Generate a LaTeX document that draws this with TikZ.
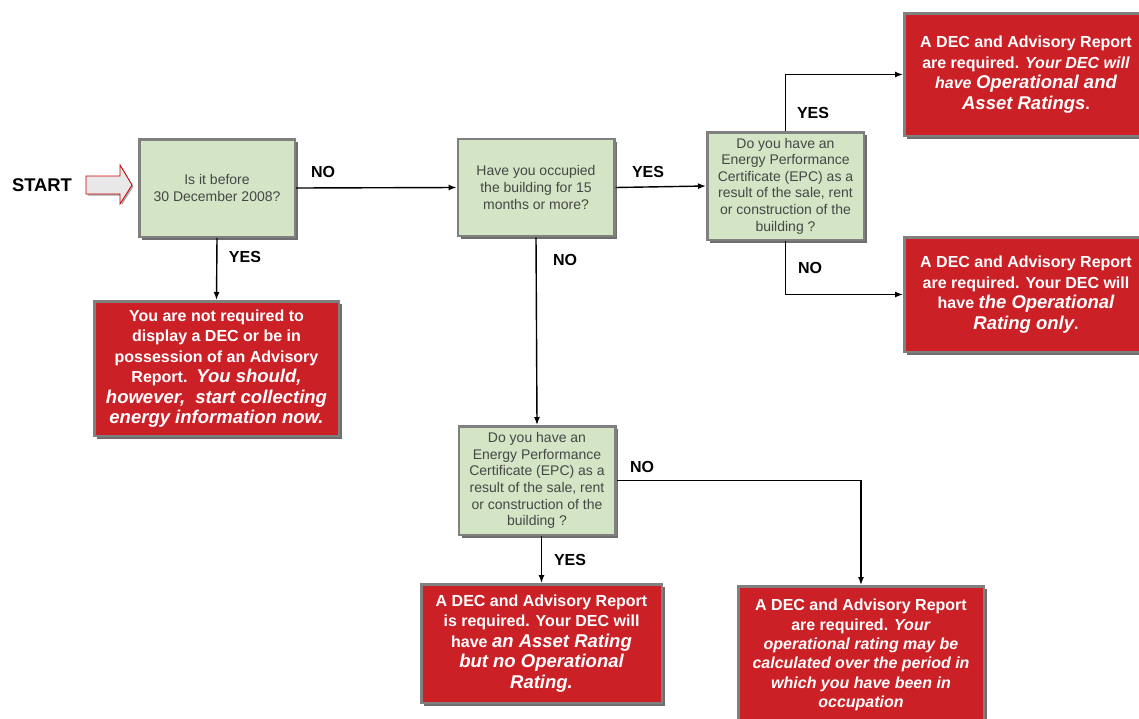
\documentclass[tikz,border=0pt]{standalone}
\usepackage{fontspec}
\setmainfont{Liberation Sans}
\usetikzlibrary{arrows.meta,shadows}
\definecolor{ared}{RGB}{204,32,39}
\definecolor{qgreen}{RGB}{211,229,197}
\definecolor{boxgray}{RGB}{128,128,128}
\definecolor{shadowgray}{RGB}{110,110,110}
\definecolor{qtext}{RGB}{70,70,70}
\definecolor{startfill}{RGB}{232,232,232}
\newcommand\bigit[1]{{\fontsize{18.5}{20.5}\selectfont\itshape #1}}
\begin{document}
\begin{tikzpicture}[x=1pt,y=-1pt,
  basebox/.style={rectangle, draw=boxgray, line width=2.5pt, align=center, inner sep=0pt,
    general shadow={fill=shadowgray, shadow xshift=3pt, shadow yshift=-3pt}},
  qbox/.style={basebox, fill=qgreen, text=qtext, font=\fontsize{14}{16.6}\selectfont},
  abox/.style={basebox, fill=ared, text=white, font=\bfseries\fontsize{16}{20.5}\selectfont},
  lab/.style={font=\bfseries\fontsize{16}{18}\selectfont, text=black, inner sep=0pt},
  conn/.style={line width=1.4pt, -{Latex[length=8pt,width=6pt]}}
]
\useasboundingbox (0,0) rectangle (1139,718);

% START
\node[lab, font=\bfseries\fontsize{18.4}{20}\selectfont] (start) at (42,185) {START};
\draw[fill=startfill, draw=red!80!black, line width=0.8pt,
  general shadow={fill=gray!70, shadow xshift=1.5pt, shadow yshift=-1.5pt}]
  (86,176) -- (120,176) -- (120,165) -- (132,185) -- (120,204) -- (120,194) -- (86,194) -- cycle;

% question boxes
\node[qbox, minimum width=155.5pt, minimum height=97.5pt] (b1) at (217,188)
  {Is it before\\ 30 December 2008?};
\node[qbox, minimum width=156.5pt, minimum height=97pt] (b2) at (536,187.5)
  {Have you occupied\\the building for 15\\months or more?};
\node[qbox, minimum width=156.5pt, minimum height=107.5pt] (b3) at (785.5,186)
  {Do you have an\\Energy Performance\\Certificate (EPC) as a\\result of the sale, rent\\or construction of the\\building ?};
\node[qbox, minimum width=156.5pt, minimum height=108.5pt] (b7) at (537,480.5)
  {Do you have an\\Energy Performance\\Certificate (EPC) as a\\result of the sale, rent\\or construction of the\\building ?};

% answer boxes
\node[abox, minimum width=243.5pt, minimum height=122.5pt] (b4) at (1026,74.5)
  {A DEC and Advisory Report\\are required. \textit{Your DEC will}\\\textit{have} \bigit{Operational and}\\\bigit{Asset Ratings}.};
\node[abox, minimum width=243.5pt, minimum height=114.5pt] (b5) at (1026,294.5)
  {A DEC and Advisory Report\\are required. Your DEC will\\have \bigit{the Operational}\\\bigit{Rating only}.};
\node[abox, minimum width=244.5pt, minimum height=134.5pt] (b6) at (216.5,368.5)
  {You are not required to\\display a DEC or be in\\possession of an Advisory\\Report.\ \ \bigit{You should,}\\\bigit{however,\ \ start collecting}\\\bigit{energy information now.}};
\node[abox, minimum width=240.5pt, minimum height=118.5pt] (b8) at (541.5,643.5)
  {A DEC and Advisory Report\\is required. Your DEC will\\have \bigit{an Asset Rating}\\\bigit{but no Operational}\\\bigit{Rating.}};
\node[abox, minimum width=245.5pt, minimum height=137.5pt, font=\bfseries\fontsize{16}{19.4}\selectfont] (b9) at (861,655)
  {A DEC and Advisory Report\\are required. \textit{Your}\\\textit{operational rating may be}\\\textit{calculated over the period in}\\\textit{which you have been in}\\\textit{occupation}};

% connectors
\draw[conn] (b1.east) -- (b2.west);
\draw[conn] (b2.east) -- (b3.west);
\draw[conn] (b3.north) |- (b4.west);
\draw[conn] (b3.south) |- (b5.west);
\draw[conn] (b1.south) -- (b6.north);
\draw[conn] (b2.south) -- (b7.north);
\draw[conn] (b7.south -| b8.north) -- (b8.north);
\draw[conn] (b7.east) -| (b9.north);

% labels
\node[lab] (l1) at (323,172) {NO};
\node[lab] (l2) at (648,172) {YES};
\node[lab] (l3) at (813,113) {YES};
\node[lab] (l4) at (810,268) {NO};
\node[lab] (l5) at (245,257) {YES};
\node[lab] (l6) at (565,260) {NO};
\node[lab] (l7) at (642,467) {NO};
\node[lab] (l8) at (570,560) {YES};
\end{tikzpicture}
\end{document}
